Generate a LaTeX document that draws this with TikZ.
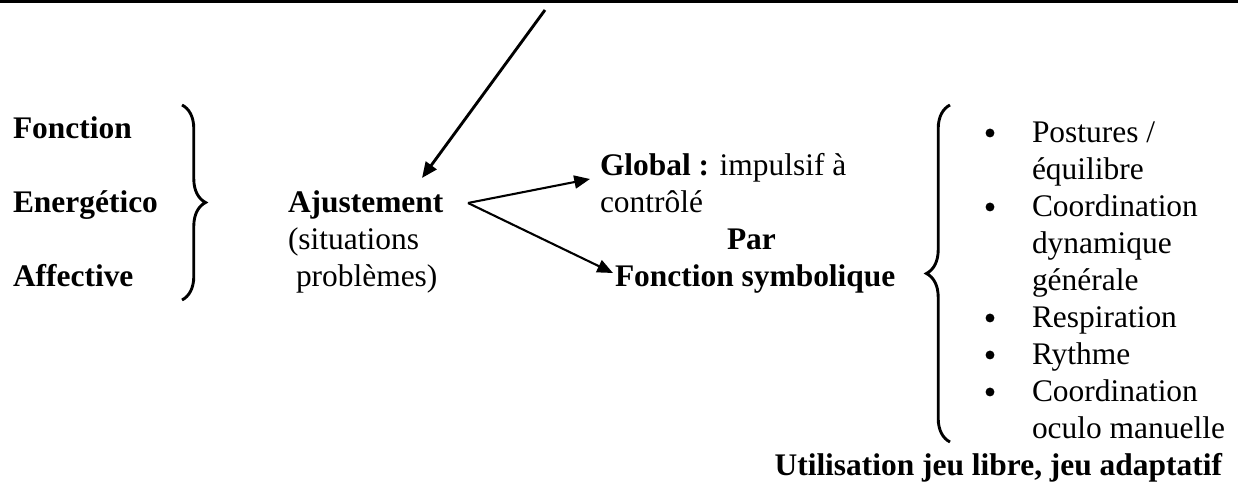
\documentclass[tikz,border=0pt]{standalone}
\usepackage{fontspec}
\setmainfont{Liberation Serif}
\usetikzlibrary{arrows.meta,decorations.pathreplacing}
\begin{document}
\begin{tikzpicture}[x=0.3817pt,y=-0.3817pt,
  txt/.style={inner sep=0pt, outer sep=0pt, anchor=base west, font=\fontsize{12}{14}\selectfont},
  bt/.style={txt, font=\fontsize{12}{14}\selectfont\bfseries},
  dot/.style={circle, fill=black, inner sep=0pt, minimum size=3.4pt},
  arr/.style={line width=0.8pt, -{Triangle[length=6pt,width=5pt]}},
  brc/.style={line width=1.1pt, decorate, decoration={brace, amplitude=9pt}}]
\useasboundingbox (0,0) rectangle (1238,494);
\fill (0,0) rectangle (1238,3);
% left group
\node[bt] (fonction) at (13,139) {Fonction};
\node[bt] (energ) at (13,213) {Energético};
\node[bt] (affect) at (13,287) {Affective};
\draw[brc] (182,105) -- (182,300);
% ajustement
\node[bt] (ajust) at (288,213) {Ajustement};
\node[txt] (sit) at (288,250) {(situations};
\node[txt] (prob) at (296,287) {problèmes)};
% arrows
\coordinate (top) at (545,10);
\coordinate (ajtip) at (422,178);
\draw[arr, line width=1.1pt] (top) -- (ajtip);
\coordinate (fork) at (468,203);
\coordinate (gtip) at (590,179);
\coordinate (ftip) at (613,273);
\draw[arr] (fork) -- (gtip);
\draw[arr] (fork) -- (ftip);
% middle
\node[txt] (global) at (600,176) {\textbf{Global :} impulsif à};
\node[txt] (ctrl) at (600,213) {contrôlé};
\node[bt] (par) at (727,250) {Par};
\node[bt] (fsym) at (615,287) {Fonction symbolique};
% right brace
\draw[brc] (950,442) -- (950,105);
% list
\node[txt] (l1) at (1032,143) {Postures /};
\node[txt] (l2) at (1032,180) {équilibre};
\node[txt] (l3) at (1032,217) {Coordination};
\node[txt] (l4) at (1032,254) {dynamique};
\node[txt] (l5) at (1032,291) {générale};
\node[txt] (l6) at (1032,328) {Respiration};
\node[txt] (l7) at (1032,365) {Rythme};
\node[txt] (l8) at (1032,402) {Coordination};
\node[txt] (l9) at (1032,439) {oculo manuelle};
\node[dot] (b1) at (990,133) {};
\node[dot] (b2) at (990,207) {};
\node[dot] (b3) at (990,318) {};
\node[dot] (b4) at (990,355) {};
\node[dot] (b5) at (990,392) {};
\node[bt, anchor=base east] (util) at (1222,476) {Utilisation jeu libre, jeu adaptatif};
\end{tikzpicture}
\end{document}
